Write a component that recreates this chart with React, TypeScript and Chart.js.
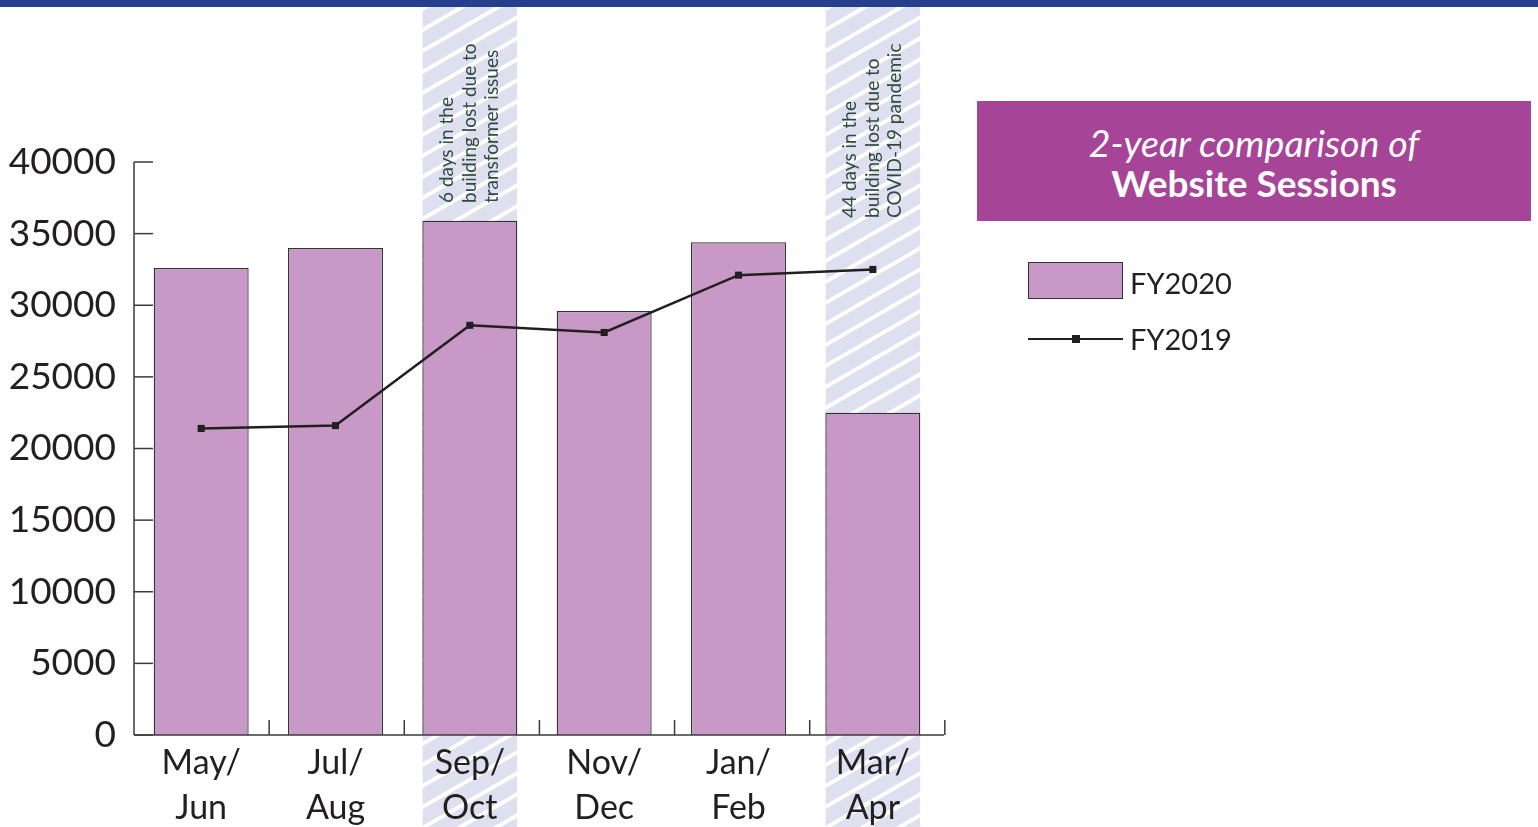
import React, { useEffect, useRef } from "react";
import { Chart, registerables } from "chart.js";

Chart.register(...registerables);

// ---- data ----
const categories = ["May/Jun", "Jul/Aug", "Sep/Oct", "Nov/Dec", "Jan/Feb", "Mar/Apr"];
const fy2020 = [32600, 34000, 35900, 29600, 34400, 22500];
const fy2019 = [21400, 21600, 28600, 28100, 32100, 32500];
const yMin = 0;
const yMax = 40000;
const yStep = 5000;
const highlightedCategories = ["Sep/Oct", "Mar/Apr"];
const highlightNotes = [
  ["6 days in the", "building lost due to", "transformer issues"],
  ["44 days in the", "building lost due to", "COVID-19 pandemic"],
];
const titleLine1 = "2-year comparison of";
const titleLine2 = "Website Sessions";
const seriesNames = ["FY2020", "FY2019"];

// ---- styles ----
const BAR_FILL = "#c899c6";
const INK = "#231f20";
const AXIS = "#3a3a3a";
const BAND_FILL = "#dfe0ef";
const NOTE_COLOR = "#2f4a3f";
const TITLE_BG = "#a64597";
const TOP_BAR = "#253e8e";
const FONT = "Lato, 'Open Sans', sans-serif";
const NOTE_BOTTOMS = [203, 218];

const bandPlugin = {
  id: "bands",
  beforeDraw(chart: any) {
    const ctx = chart.ctx;
    const meta = chart.getDatasetMeta(0);
    highlightedCategories.forEach((cat) => {
      const i = categories.indexOf(cat);
      const bar: any = meta.data[i];
      if (!bar) return;
      const { x, width } = bar.getProps(["x", "width"], true);
      const left = x - width / 2;
      const right = x + width / 2;
      const top = 7;
      const bottom = chart.height;
      ctx.save();
      ctx.beginPath();
      ctx.rect(left, top, right - left, bottom - top);
      ctx.clip();
      ctx.fillStyle = BAND_FILL;
      ctx.fillRect(left, top, right - left, bottom - top);
      ctx.strokeStyle = "#ffffff";
      ctx.lineWidth = 4;
      const slope = Math.tan((30 * Math.PI) / 180);
      const rise = (right - left) * slope;
      for (let y0 = top - 40; y0 < bottom + rise + 40; y0 += 21) {
        ctx.beginPath();
        ctx.moveTo(left - 2, y0 + 2 * slope);
        ctx.lineTo(right + 2, y0 - rise - 2 * slope);
        ctx.stroke();
      }
      ctx.restore();
    });
  },
};

const axesPlugin = {
  id: "customAxes",
  afterDatasetsDraw(chart: any) {
    const ctx = chart.ctx;
    const { left, right, bottom } = chart.chartArea;
    const y = chart.scales.y;
    const x = chart.scales.x;
    ctx.save();
    ctx.strokeStyle = AXIS;
    ctx.lineWidth = 1.5;
    // y axis line
    ctx.beginPath();
    ctx.moveTo(left, y.getPixelForValue(yMax));
    ctx.lineTo(left, y.getPixelForValue(yMin));
    ctx.stroke();
    // y ticks (inward)
    y.ticks.forEach((t: any) => {
      const py = y.getPixelForValue(t.value);
      ctx.beginPath();
      ctx.moveTo(left, py);
      ctx.lineTo(left + 19, py);
      ctx.stroke();
    });
    // x axis line
    const half = (x.getPixelForValue(1) - x.getPixelForValue(0)) / 2;
    const lastEdge = x.getPixelForValue(categories.length - 1) + half * 1.06;
    ctx.beginPath();
    ctx.moveTo(left, bottom);
    ctx.lineTo(lastEdge, bottom);
    ctx.stroke();
    for (let i = 0; i < categories.length; i++) {
      const px = x.getPixelForValue(i) + half * (1 + 0.012 * (i + 1));
      ctx.beginPath();
      ctx.moveTo(px, bottom);
      ctx.lineTo(px, bottom - 15);
      ctx.stroke();
    }
    ctx.restore();
  },
  afterDraw(chart: any) {
    const ctx = chart.ctx;
    const x = chart.scales.x;
    ctx.save();
    ctx.fillStyle = NOTE_COLOR;
    ctx.font = `19px ${FONT}`;
    ctx.textAlign = "left";
    ctx.textBaseline = "middle";
    highlightedCategories.forEach((cat, k) => {
      const i = categories.indexOf(cat);
      const cx = x.getPixelForValue(i);
      const lines = highlightNotes[k];
      lines.forEach((line, j) => {
        const lx = cx + (j - (lines.length - 1) / 2) * 22.5;
        ctx.save();
        ctx.translate(lx, NOTE_BOTTOMS[k]);
        ctx.rotate(-Math.PI / 2);
        ctx.fillText(line, 0, 0);
        ctx.restore();
      });
    });
    ctx.restore();
  },
};

function ChartCanvas() {
  const ref = useRef<HTMLCanvasElement | null>(null);
  useEffect(() => {
    let chart: Chart | null = null;
    let cancelled = false;
    const make = () => {
      if (cancelled || !ref.current) return;
      chart = new Chart(ref.current, {
        type: "bar",
        data: {
          labels: categories.map((c) => {
            const p = c.split("/");
            return [p[0] + "/", p[1]];
          }),
          datasets: [
            {
              type: "bar",
              label: seriesNames[0],
              data: fy2020,
              backgroundColor: BAR_FILL,
              borderColor: "#333333",
              borderWidth: 1.3,
              barPercentage: 0.707,
              categoryPercentage: 1,
              order: 2,
            },
            {
              type: "line",
              label: seriesNames[1],
              data: fy2019,
              borderColor: INK,
              backgroundColor: INK,
              borderWidth: 2.5,
              pointStyle: "rect",
              pointRadius: 5,
              pointBorderWidth: 0,
              tension: 0,
              order: 1,
            } as any,
          ],
        },
        options: {
          responsive: false,
          animation: false,
          devicePixelRatio: 1,
          layout: { padding: { top: 162, right: 1538 - 940, left: 0, bottom: 0 } },
          plugins: {
            legend: { display: false },
            tooltip: { enabled: false },
            title: { display: false },
          },
          scales: {
            x: {
              grid: { display: false, drawTicks: false },
              border: { display: false },
              ticks: {
                color: INK,
                font: { family: FONT, size: 34, lineHeight: 1.33 },
                padding: 5,
                maxRotation: 0,
                autoSkip: false,
              },
              afterFit: (s: any) => {
                s.height = 92;
              },
            },
            y: {
              min: yMin,
              max: yMax,
              grid: { display: false, drawTicks: false },
              border: { display: false },
              ticks: {
                stepSize: yStep,
                color: INK,
                font: { family: FONT, size: 37 },
                padding: 18,
                callback: (v: any) => String(v),
              },
              afterFit: (s: any) => {
                s.width = 134;
              },
            },
          },
        },
        plugins: [bandPlugin, axesPlugin],
      } as any);
    };
    const fontsReady = (document as any).fonts
      ? Promise.all([
          (document as any).fonts.load(`34px Lato`),
          (document as any).fonts.load(`italic 34px Lato`),
          (document as any).fonts.load(`bold 34px Lato`),
        ]).catch(() => null)
      : Promise.resolve(null);
    fontsReady.then(make);
    return () => {
      cancelled = true;
      if (chart) chart.destroy();
    };
  }, []);
  return <canvas ref={ref} width={1538} height={827} style={{ position: "absolute", left: 0, top: 0 }} />;
}

export default function App() {
  return (
    <div
      style={{
        position: "fixed",
        left: 0,
        top: 0,
        width: 1538,
        height: 827,
        background: "#ffffff",
        overflow: "hidden",
        fontFamily: FONT,
      }}
    >
      <ChartCanvas />
      <div style={{ position: "absolute", left: 0, top: 0, width: 1538, height: 7, background: TOP_BAR }} />
      <div
        style={{
          position: "absolute",
          left: 977,
          top: 101,
          width: 554,
          height: 120,
          background: TITLE_BG,
          color: "#ffffff",
          textAlign: "center",
        }}
      >
        <div style={{ position: "absolute", left: 0, right: 0, top: 19, fontStyle: "italic", fontSize: 37.5, lineHeight: "46px" }}>
          {titleLine1}
        </div>
        <div style={{ position: "absolute", left: 0, right: 0, top: 59, fontWeight: 700, fontSize: 37, lineHeight: "46px" }}>
          {titleLine2}
        </div>
      </div>
      <div
        style={{
          position: "absolute",
          left: 1028,
          top: 262,
          width: 95,
          height: 37,
          boxSizing: "border-box",
          background: BAR_FILL,
          border: "1.5px solid #333333",
        }}
      />
      <div style={{ position: "absolute", left: 1130, top: 265, fontSize: 29, lineHeight: "36px", color: INK }}>{seriesNames[0]}</div>
      <div style={{ position: "absolute", left: 1028, top: 338, width: 95, height: 2, background: INK }} />
      <div style={{ position: "absolute", left: 1072, top: 335, width: 8, height: 8, background: INK }} />
      <div style={{ position: "absolute", left: 1130, top: 321, fontSize: 29, lineHeight: "36px", color: INK }}>{seriesNames[1]}</div>
    </div>
  );
}
